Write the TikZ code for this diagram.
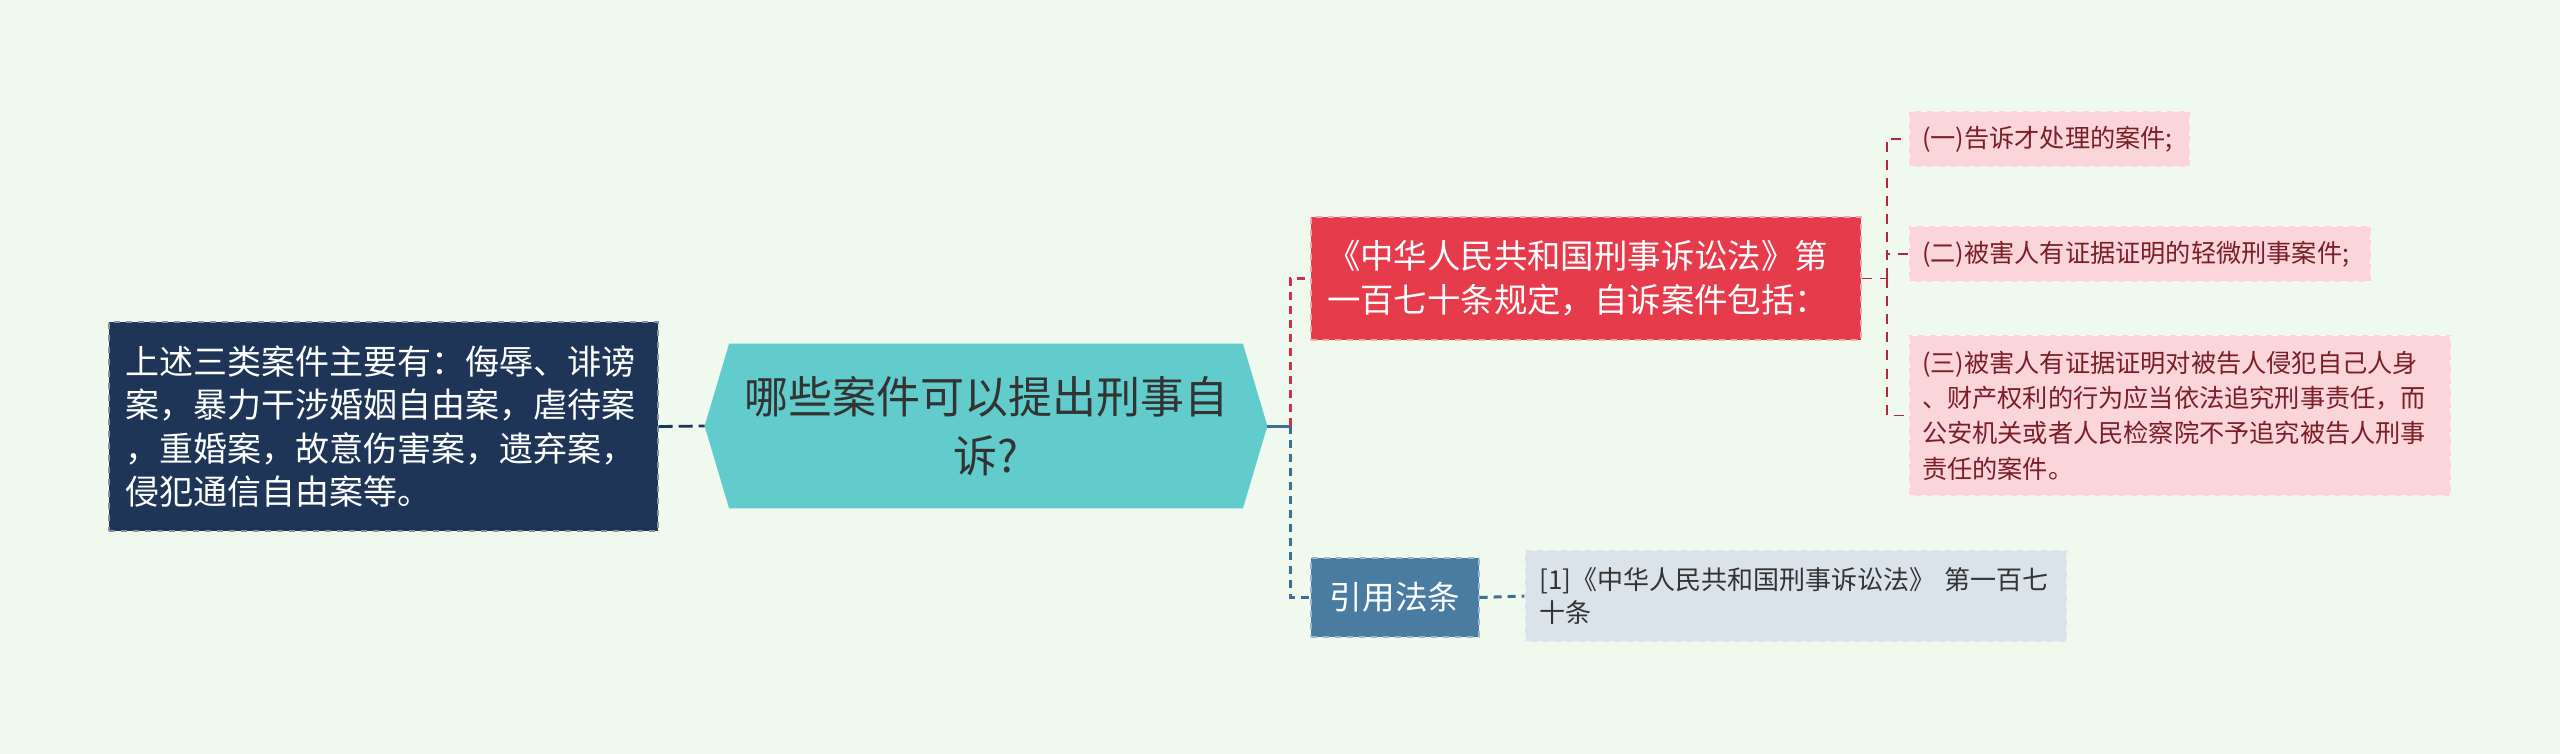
\documentclass[tikz,border=0pt]{standalone}
\usepackage{fontspec}
\setmainfont{Noto Sans CJK SC}
\usetikzlibrary{calc, backgrounds}
\definecolor{bgmint}{HTML}{F0F9EE}
\definecolor{navybox}{HTML}{1F3558}
\definecolor{tealhex}{HTML}{62CBCC}
\definecolor{redbox}{HTML}{E63B4B}
\definecolor{redwire}{HTML}{D42E45}
\definecolor{pinkwire}{HTML}{B3263C}
\definecolor{pinkbox}{HTML}{FAD5D9}
\definecolor{pinktext}{HTML}{7A1F27}
\definecolor{steelbox}{HTML}{497CA0}
\definecolor{steelwire}{HTML}{3F6E92}
\definecolor{graybox}{HTML}{DAE3EA}
\definecolor{darktext}{HTML}{333333}
\tikzset{
  box/.style={rectangle, dashed, line width=0.6pt, align=left,
    inner xsep=#1, inner ysep=0pt, anchor=center},
  navynode/.style={box=8pt, fill=navybox, draw=navybox!55!white, text=white,
    minimum width=274.5pt, minimum height=104.5pt, text width=258.5pt,
    font=\fontsize{17pt}{21.8pt}\selectfont},
  hexnode/.style={rectangle, align=center, inner sep=0pt, text=darktext,
    minimum width=281pt, minimum height=82pt,
    font=\fontsize{22pt}{29.4pt}\selectfont},
  rednode/.style={box=8pt, fill=redbox, draw=redbox!45!white, text=white,
    minimum width=275pt, minimum height=61.5pt, text width=259pt,
    font=\fontsize{16.7pt}{22pt}\selectfont},
  pinknode/.style={box=6.5pt, fill=pinkbox, draw=white!70!pinkbox, text=pinktext,
    minimum height=28pt, font=\fontsize{12.6pt}{17.7pt}\selectfont},
  steelnode/.style={box=8pt, fill=steelbox, draw=steelbox!55!white, text=white,
    minimum width=84pt, minimum height=39.5pt, align=center,
    font=\fontsize{16.3pt}{20pt}\selectfont},
  graynode/.style={box=7.3pt, fill=graybox, draw=white!60!graybox, text=darktext,
    minimum width=271pt, minimum height=46pt, text width=256.4pt,
    font=\fontsize{13pt}{16.5pt}\selectfont},
  navyline/.style={draw=navybox, line width=1.4pt, dash pattern=on 7pt off 3pt},
  redline/.style={draw=redwire, line width=1.5pt, dash pattern=on 4pt off 3pt},
  pinkline/.style={draw=pinkwire, line width=0.9pt, dash pattern=on 5pt off 4pt},
  steelline/.style={draw=steelwire, line width=1.5pt, dash pattern=on 4pt off 3pt}
}

\begin{document}
\begin{tikzpicture}[x=0.5pt,y=-0.5pt]
\useasboundingbox (0,0) rectangle (2560,754);

% main topic and left note
\node[hexnode] (question) at (986,426) {哪些案件可以提出刑事自\\诉?};
\node[navynode] (summary) at (383.5,426.5)
  {上述三类案件主要有：侮辱、诽谤\\案，暴力干涉婚姻自由案，虐待案\\，重婚案，故意伤害案，遗弃案，\\侵犯通信自由案等。};

% right branches
\node[rednode] (statute) at (1586,278.5)
  {《中华人民共和国刑事诉讼法》第\\一百七十条规定，自诉案件包括：};
\node[steelnode] (cite) at (1395,597.5) {引用法条};

\node[pinknode, minimum width=140.5pt, text width=127.5pt] (caseA) at (2049.5,139)
  {(一)告诉才处理的案件;};
\node[pinknode, minimum width=231pt, text width=218pt] (caseB) at (2140,254)
  {(二)被害人有证据证明的轻微刑事案件;};
\node[pinknode, minimum width=271pt, minimum height=80.5pt, text width=258pt] (caseC) at (2180,415.5)
  {(三)被害人有证据证明对被告人侵犯自己人身\\、财产权利的行为应当依法追究刑事责任，而\\公安机关或者人民检察院不予追究被告人刑事\\责任的案件。};
\node[graynode] (source) at (1796,596)
  {[1]《中华人民共和国刑事诉讼法》 第一百七\\十条};

\begin{scope}[on background layer]
\fill[bgmint] (0,0) rectangle (2560,754);
\fill[tealhex] (question.west) -- ([xshift=12.25pt]question.north west)
  -- ([xshift=-12.25pt]question.north east) -- (question.east)
  -- ([xshift=-12.25pt]question.south east) -- ([xshift=12.25pt]question.south west) -- cycle;
\end{scope}

% connectors
\coordinate (fork) at ($(question.east)+(23,0)$);
\coordinate (fork2) at ($(statute.east)+(25,0)$);
\draw[navyline] (summary.east) -- (question.west);
\draw[redline] (fork) |- (statute.west);
\draw[steelline] (fork) |- (cite.west);
\draw[steelwire, line width=1.5pt] (question.east) -- (fork);
\draw[pinkline] (statute.east) -- (fork2);
\draw[pinkline] (fork2) |- (caseA.west);
\draw[pinkline] (fork2) |- (caseB.west);
\draw[pinkline] (fork2) |- (caseC.west);
\draw[steelline] (cite.east) -- (source.west);
\end{tikzpicture}
\end{document}
